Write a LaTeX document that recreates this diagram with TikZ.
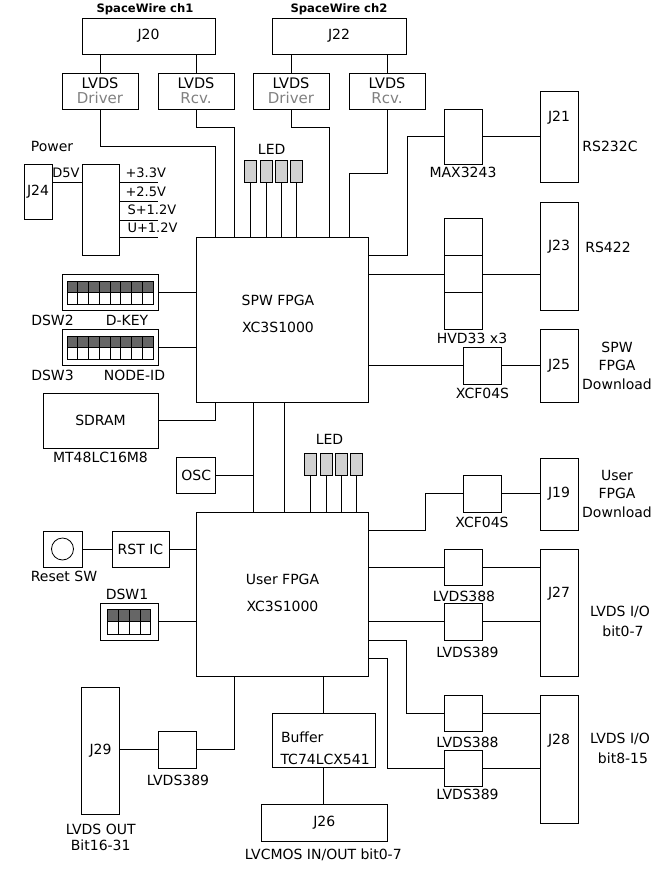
\documentclass[tikz,border=0pt]{standalone}
\usepackage{fontspec}
\setmainfont{DejaVu Sans}
\newcommand\mylbl{\fontsize{14}{16}\selectfont}
\newcommand\mysml{\fontsize{13}{15}\selectfont}
\newcommand\mybig{\fontsize{14.5}{14.6}\selectfont}
\newcommand\mygry{\fontsize{15}{14.6}\selectfont}
\newcommand\myttl{\fontsize{11.6}{14}\selectfont\bfseries}
\definecolor{drvgray}{gray}{0.5}
\definecolor{dswdark}{gray}{0.4}
\definecolor{ledfill}{gray}{0.82}
\begin{document}
\begin{tikzpicture}[x=1pt,y=-1pt,line width=1pt,
  box/.style 2 args={draw,line width=1pt,inner sep=0pt,minimum width=#1pt,minimum height=#2pt,font=\mylbl,align=center},
  lvds/.style={box={76}{36},font=\mybig},
  txt/.style={inner sep=0pt,font=\mylbl,align=center},
  led/.style={draw,fill=ledfill,line width=0.8pt,minimum width=12pt,minimum height=22pt,inner sep=0pt},
  cell/.style={line width=0.7pt}]
\useasboundingbox (0,0) rectangle (670,870);

% ---------- boxes ----------
\node[box={133}{36}] (J20) at (148.5,36) {J20};
\node[box={134}{36}] (J22) at (339,36) {J22};
\node[lvds] (Drv1) at (100,91) {LVDS\\{\mygry\textcolor{drvgray}{Driver}}};
\node[lvds] (Rcv1) at (196,91) {LVDS\\{\mygry\textcolor{drvgray}{Rcv.}}};
\node[lvds] (Drv2) at (291,91) {LVDS\\{\mygry\textcolor{drvgray}{Driver}}};
\node[lvds] (Rcv2) at (387,91) {LVDS\\{\mygry\textcolor{drvgray}{Rcv.}}};
\node[box={28}{55}] (J24) at (38,191.5) {J24};
\node[box={37}{91}] (Reg) at (100.5,209.5) {};
\node[box={172}{165}] (SPW) at (282,319.5) {};
\node[box={38}{55}] (MAX) at (463,136.5) {};
\node[box={38}{91}] (J21) at (559,136.5) {};
\node[box={38}{36.67}] (HVDa) at (463,237.3) {};
\node[box={38}{36.67}] (HVDb) at (463,274) {};
\node[box={38}{36.67}] (HVDc) at (463,310.7) {};
\node[box={38}{108}] (J23) at (559,256) {};
\node[box={38}{37}] (XCFa) at (482,365.5) {};
\node[box={38}{73}] (J25) at (559,365.5) {J25};
\node[box={96}{36}] (DSW2) at (110,292) {};
\node[box={96}{36}] (DSW3) at (110,347) {};
\node[box={115}{55}] (SDRAM) at (100.5,420.5) {SDRAM};
\node[box={38.7}{36}] (OSC) at (196.3,475) {OSC};
\node[box={172}{164}] (User) at (282,594) {};
\node[box={38}{37}] (XCFb) at (482,493.5) {};
\node[box={38}{72}] (J19) at (559,494) {J19};
\node[box={38}{36}] (LAa) at (463,567) {};
\node[box={38}{37}] (LBa) at (463,621.5) {};
\node[box={38}{127}] (J27) at (559,612.5) {};
\node[box={38}{36}] (LAb) at (463,713) {};
\node[box={38}{36}] (LBb) at (463,768) {};
\node[box={38}{128}] (J28) at (559,759) {};
\node[box={39}{36}] (RSW) at (62.5,549) {};
\node[box={57}{36}] (RST) at (140.5,549) {RST IC};
\node[box={57.6}{37}] (DSW1) at (129.5,621.5) {};
\node[box={37.6}{127}] (J29) at (100.5,750.5) {J29};
\node[box={38}{37}] (LBc) at (177.3,749.5) {};
\node[box={103}{54}] (Buf) at (323.8,740) {};
\node[box={126}{37}] (J26) at (324.3,822.5) {J26};

% LEDs
\node[led] (La1) at (250.5,171) {};
\node[led] (La2) at (266,171) {};
\node[led] (La3) at (281.5,171) {};
\node[led] (La4) at (296.5,171) {};
\node[led] (Lb1) at (310,464) {};
\node[led] (Lb2) at (326,464) {};
\node[led] (Lb3) at (341.5,464) {};
\node[led] (Lb4) at (356.3,464) {};

% Reset switch circle
\draw[line width=0.8pt] (RSW.center) circle[radius=11pt];

% DIP switch cells
\foreach \i in {0,...,7} {
  \draw[cell,fill=dswdark] (67+\i*10.75,281) rectangle ++(10.75,11.5);
  \draw[cell,fill=white] (67+\i*10.75,292.5) rectangle ++(10.75,11.5);
  \draw[cell,fill=dswdark] (67+\i*10.75,336) rectangle ++(10.75,11.5);
  \draw[cell,fill=white] (67+\i*10.75,347.5) rectangle ++(10.75,11.5);
}
\foreach \i in {0,...,3} {
  \draw[cell,fill=dswdark] (107.3+\i*10.85,609) rectangle ++(10.85,12.5);
  \draw[cell,fill=white] (107.3+\i*10.85,621.5) rectangle ++(10.85,12.5);
}

% ---------- helper coordinates ----------
\coordinate (b1) at (215,146);
\coordinate (b2) at (234,127);
\coordinate (b3) at (329,127);
\coordinate (b4) at (349,173);
\coordinate (b5) at (407,255);
\coordinate (b6) at (215.7,420.5);
\coordinate (b7) at (253.3,450);
\coordinate (b8) at (284.3,450);
\coordinate (b9) at (425.7,530);
\coordinate (b10) at (406.7,640);
\coordinate (b11) at (387.7,658);
\coordinate (b12) at (234.3,749.5);
\coordinate (v1) at (158,182);
\coordinate (v2) at (158,201);
\coordinate (v3) at (158,220);
\coordinate (v4) at (158,237);

% ---------- connectors ----------
\draw (J20.south -| Drv1.north) -- (Drv1.north);
\draw (J20.south -| Rcv1.north) -- (Rcv1.north);
\draw (J22.south -| Drv2.north) -- (Drv2.north);
\draw (J22.south -| Rcv2.north) -- (Rcv2.north);
\draw (Drv1.south) |- (b1) -- (b1 |- SPW.north);
\draw (Rcv1.south) |- (b2) -- (b2 |- SPW.north);
\draw (Drv2.south) |- (b3) -- (b3 |- SPW.north);
\draw (Rcv2.south) |- (b4) -- (b4 |- SPW.north);
\foreach \l in {La1,La2,La3,La4} \draw (\l.south) -- (\l.south |- SPW.north);
\foreach \l in {Lb1,Lb2,Lb3,Lb4} \draw (\l.south) -- (\l.south |- User.north);

\draw (v1 -| J24.east) -- (v1 -| Reg.west);
\foreach \v in {v1,v2,v3,v4} \draw (\v -| Reg.east) -- (\v);

\draw (b5 -| SPW.east) -- (b5) |- (MAX.west);
\draw (MAX.east) -- (MAX.east -| J21.west);
\draw (HVDb.west -| SPW.east) -- (HVDb.west);
\draw (HVDb.east) -- (HVDb.east -| J23.west);
\draw (XCFa.west -| SPW.east) -- (XCFa.west);
\draw (XCFa.east) -- (XCFa.east -| J25.west);
\draw (DSW2.east) -- (DSW2.east -| SPW.west);
\draw (DSW3.east) -- (DSW3.east -| SPW.west);
\draw (SDRAM.east) -- (b6) -- (b6 |- SPW.south);
\draw (b7 |- SPW.south) -- (b7 |- User.north);
\draw (b8 |- SPW.south) -- (b8 |- User.north);
\draw (OSC.east) -- (OSC.east -| b7);

\draw (b9 -| User.east) -- (b9) |- (XCFb.west);
\draw (XCFb.east) -- (XCFb.east -| J19.west);
\draw (LAa.west -| User.east) -- (LAa.west);
\draw (LAa.east) -- (LAa.east -| J27.west);
\draw (LBa.west -| User.east) -- (LBa.west);
\draw (LBa.east) -- (LBa.east -| J27.west);
\draw (b10 -| User.east) -- (b10) |- (LAb.west);
\draw (LAb.east) -- (LAb.east -| J28.west);
\draw (b11 -| User.east) -- (b11) |- (LBb.west);
\draw (LBb.east) -- (LBb.east -| J28.west);

\draw (RSW.east) -- (RST.west);
\draw (RST.east) -- (RST.east -| User.west);
\draw (DSW1.east) -- (DSW1.east -| User.west);
\draw (b12 |- User.south) -- (b12) -- (LBc.east);
\draw (LBc.west) -- (LBc.west -| J29.east);
\draw (Buf.north |- User.south) -- (Buf.north);
\draw (Buf.south) -- (Buf.south |- J26.north);

% ---------- labels ----------
\node[txt,font=\myttl] at (145,9.5) {SpaceWire ch1};
\node[txt,font=\myttl] at (339,9.5) {SpaceWire ch2};
\node[txt] at (52,146) {Power};
\node[txt,font=\mysml] at (66,173) {D5V};
\node[txt,font=\mysml,anchor=west] at (125,173) {+3.3V};
\node[txt,font=\mysml,anchor=west] at (125,192) {+2.5V};
\node[txt,font=\mysml,anchor=west] at (127,210) {S+1.2V};
\node[txt,font=\mysml,anchor=west] at (127,228) {U+1.2V};
\node[txt] at (271.7,149) {LED};
\node[txt] at (329.5,439) {LED};
\node[txt] at (278,300) {SPW FPGA};
\node[txt] at (278,327) {XC3S1000};
\node[txt] at (282.5,579) {User FPGA};
\node[txt] at (282.5,606) {XC3S1000};
\node[txt] at (559,118) {J21};
\node[txt] at (559,247) {J23};
\node[txt] at (559,594) {J27};
\node[txt] at (559,741) {J28};
\node[txt] at (463,172) {MAX3243};
\node[txt] at (610,146) {RS232C};
\node[txt] at (608,247) {RS422};
\node[txt] at (472,338) {HVD33 x3};
\node[txt] at (482.5,393) {XCF04S};
\node[txt] at (617,347) {SPW};
\node[txt] at (617,365) {FPGA};
\node[txt] at (617,384) {Download};
\node[txt] at (52.5,320) {DSW2};
\node[txt] at (127,320) {D-KEY};
\node[txt] at (52.5,375) {DSW3};
\node[txt] at (134.5,375) {NODE-ID};
\node[txt] at (100.5,457) {MT48LC16M8};
\node[txt] at (617,475) {User};
\node[txt] at (617,493) {FPGA};
\node[txt] at (617,512) {Download};
\node[txt] at (482,522) {XCF04S};
\node[txt] at (464,596) {LVDS388};
\node[txt] at (467.5,652) {LVDS389};
\node[txt] at (467.5,742) {LVDS388};
\node[txt] at (467.5,794) {LVDS389};
\node[txt] at (620,612) {LVDS I/O};
\node[txt] at (623,631) {bit0-7};
\node[txt] at (620,739) {LVDS I/O};
\node[txt] at (623,758) {bit8-15};
\node[txt] at (64,576) {Reset SW};
\node[txt] at (127,594) {DSW1};
\node[txt] at (178,780) {LVDS389};
\node[txt] at (100.7,829) {LVDS OUT};
\node[txt] at (100.7,845) {Bit16-31};
\node[txt,anchor=west] at (280.5,737) {Buffer};
\node[txt,anchor=west] at (280,759) {TC74LCX541};
\node[txt] at (323.3,855) {LVCMOS IN/OUT bit0-7};
\end{tikzpicture}
\end{document}
